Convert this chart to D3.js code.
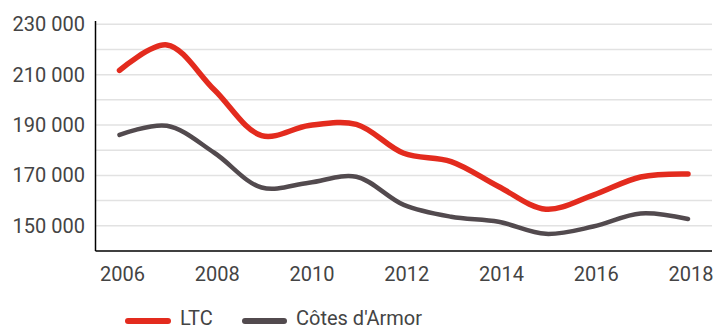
<!DOCTYPE html>
<html>
<head>
<meta charset="utf-8">
<script src="https://cdn.jsdelivr.net/npm/d3@7"></script>
<style>
  html, body { margin: 0; padding: 0; background: #fff; }
  svg { display: block; font-family: Roboto, "Noto Sans", sans-serif; }
</style>
</head>
<body>
<svg id="chart" width="717" height="329"></svg>
<script>
// Population series, 2006–2018
const years = [2006, 2007, 2008, 2009, 2010, 2011, 2012, 2013, 2014, 2015, 2016, 2017, 2018];
const ltc = [211700, 221800, 204000, 185800, 189800, 190300, 178800, 175500, 165600, 156600, 162200, 169400, 170600];
const cotesArmor = [186100, 189700, 179000, 165200, 167100, 169500, 158300, 153600, 151600, 146800, 149700, 154900, 152700];
const yTicks = [150000, 170000, 190000, 210000, 230000];
const xTicks = [2006, 2008, 2010, 2012, 2014, 2016, 2018];
const seriesNames = ["LTC", "Côtes d'Armor"];
const seriesColors = ["#e32b1e", "#524a4e"];

const svg = d3.select("#chart");
const axisX = 95.5, axisBottom = 251, rightEdge = 712;

const x = d3.scaleLinear().domain([2006, 2018]).range([119.5, 688]);
const y = d3.scaleLinear().domain([140000, 230000]).range([axisBottom, 24.3]);

const fmt = v => d3.format(",")(v).replace(/,/g, " ");

// horizontal gridlines every 10 000
const grid = d3.range(150000, 230001, 10000);
svg.append("g").selectAll("line").data(grid).join("line")
  .attr("x1", axisX).attr("x2", rightEdge)
  .attr("y1", d => y(d)).attr("y2", d => y(d))
  .attr("stroke", "#e2e2e2").attr("stroke-width", 1.5);

// y labels
svg.append("g").selectAll("text").data(yTicks).join("text")
  .attr("x", 85).attr("y", d => y(d)).attr("dy", "0.35em")
  .attr("text-anchor", "end").attr("font-size", 20).attr("fill", "#444")
  .text(fmt);

// x labels
svg.append("g").selectAll("text").data(xTicks).join("text")
  .attr("x", d => x(d) + 3).attr("y", 274).attr("dy", "0.35em")
  .attr("text-anchor", "middle").attr("font-size", 20).attr("fill", "#444")
  .text(d => d);

// axis lines
svg.append("line").attr("x1", axisX).attr("x2", axisX).attr("y1", 21).attr("y2", axisBottom)
  .attr("stroke", "#000").attr("stroke-width", 1.5);
svg.append("line").attr("x1", axisX).attr("x2", rightEdge).attr("y1", axisBottom).attr("y2", axisBottom)
  .attr("stroke", "#000").attr("stroke-width", 1.5);

// series lines
const line = d3.line()
  .x((d, i) => x(years[i]))
  .y(d => y(d))
  .curve(d3.curveCatmullRom.alpha(0.5));

[cotesArmor, ltc].forEach((vals, k) => {
  const idx = k === 0 ? 1 : 0;
  svg.append("path").datum(vals)
    .attr("d", line)
    .attr("fill", "none")
    .attr("stroke", seriesColors[idx])
    .attr("stroke-width", idx === 0 ? 5.5 : 4.5)
    .attr("stroke-linecap", "round")
    .attr("stroke-linejoin", "round");
});

// legend
const legend = [
  { x1: 128, x2: 168, tx: 180 },
  { x1: 245, x2: 284, tx: 296 }
];
legend.forEach((l, i) => {
  svg.append("line").attr("x1", l.x1).attr("x2", l.x2).attr("y1", 321).attr("y2", 321)
    .attr("stroke", seriesColors[i]).attr("stroke-width", 6).attr("stroke-linecap", "round");
  svg.append("text").attr("x", l.tx).attr("y", 318).attr("dy", "0.35em")
    .attr("font-size", 20).attr("fill", "#444").text(seriesNames[i]);
});
</script>
</body>
</html>
